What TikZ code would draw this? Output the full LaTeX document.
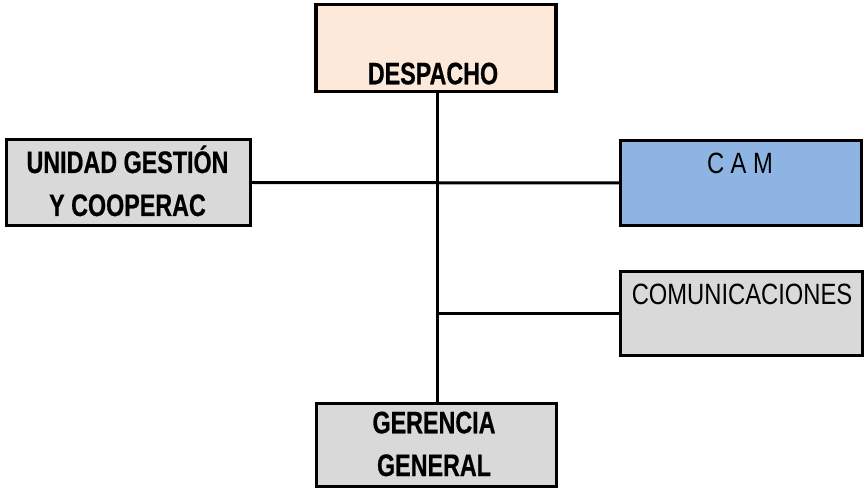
\documentclass[tikz,border=0pt]{standalone}
\usepackage{fontspec}
\setmainfont{Liberation Sans}[FakeStretch=0.81]
\newfontfamily\boldnarrow{Liberation Sans Bold}[FakeStretch=0.75, FakeBold=0.6]
\definecolor{peach}{RGB}{252,233,218}
\definecolor{camblue}{RGB}{142,180,227}
\definecolor{boxgray}{RGB}{217,217,217}
\begin{document}
\begin{tikzpicture}[x=0.75pt,y=-0.75pt,
  orgbox/.style={draw=black, line width=2.4pt, inner sep=0pt},
  label/.style={inner sep=0pt, anchor=base, font=\fontsize{22}{26}\selectfont},
  boldlabel/.style={inner sep=0pt, anchor=base, font=\boldnarrow\fontsize{23.3}{28}\selectfont},
  link/.style={line width=2.25pt}]
\useasboundingbox (0,0) rectangle (866,491);

% boxes
\node[orgbox, fill=peach, minimum width=240*0.75pt, minimum height=87*0.75pt] (desp) at (436,48) {};
\node[orgbox, fill=boxgray, minimum width=244*0.75pt, minimum height=86*0.75pt] (unid) at (128.5,182.5) {};
\node[orgbox, fill=camblue, minimum width=241*0.75pt, minimum height=85*0.75pt] (cam) at (741,183) {};
\node[orgbox, fill=boxgray, minimum width=242*0.75pt, minimum height=84*0.75pt] (com) at (741.5,313.5) {};
\node[orgbox, fill=boxgray, minimum width=240*0.75pt, minimum height=83*0.75pt] (ger) at (436.5,445) {};

% texts
\node[boldlabel] (tdesp) at (433,84.3) {DESPACHO};
\node[boldlabel] (tunid1) at (127.5,173) {UNIDAD GESTIÓN};
\node[boldlabel] (tunid2) at (127.5,216) {Y COOPERAC};
\node[label] (tcam) at (740,174) {C A M};
\node[label] (tcom) at (742,304) {COMUNICACIONES};
\node[boldlabel] (tger1) at (434,433.3) {GERENCIA};
\node[boldlabel] (tger2) at (434,476) {GENERAL};

% connectors
\coordinate (trunk) at (437,313.5);
\draw[link] (desp.south -| trunk) -- (ger.north -| trunk);
\draw[link] (unid.east) -- (cam.west);
\draw[link] (trunk) -- (com.west);
\end{tikzpicture}
\end{document}
